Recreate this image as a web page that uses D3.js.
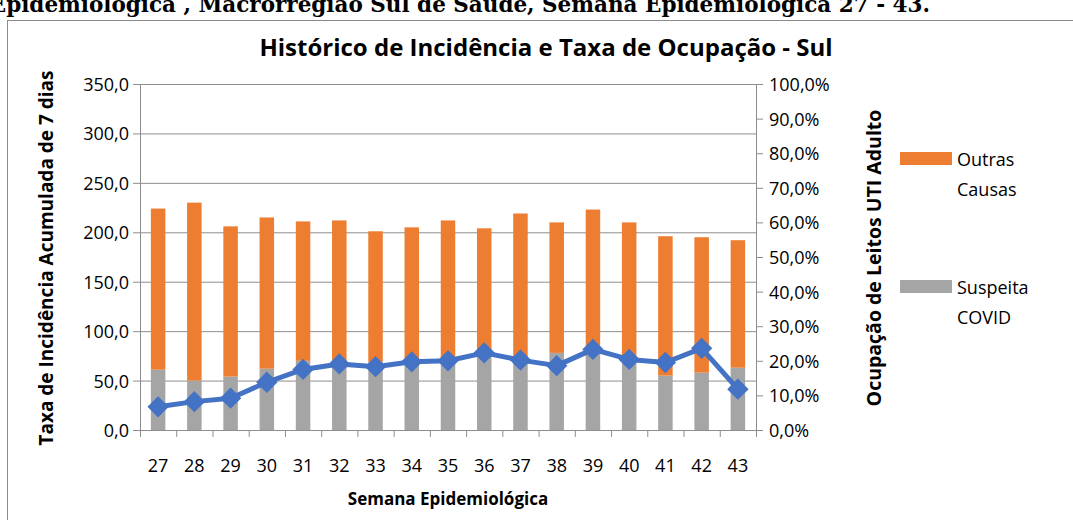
<!DOCTYPE html>
<html>
<head>
<meta charset="utf-8">
<script src="https://cdn.jsdelivr.net/npm/d3@7"></script>
<style>
  body { margin: 0; background: #fff; }
  svg { display: block; }
</style>
</head>
<body>
<div id="chart"></div>
<script>
const weeks = ["27","28","29","30","31","32","33","34","35","36","37","38","39","40","41","42","43"];
const suspeitaCovid = [61, 50, 54, 62, 70, 70, 69, 71, 72, 80, 73, 78, 86, 72, 55, 58, 63];
const outrasCausas = [163, 180, 152, 153, 141, 142, 132, 134, 140, 124, 146, 132, 137, 138, 141, 137, 129];
const ocupacaoUti = [6.7, 8.2, 9.2, 13.8, 17.5, 19.1, 18.3, 19.7, 20.0, 22.3, 20.2, 18.6, 23.3, 20.4, 19.5, 23.6, 11.8];
const leftTicks = [0, 50, 100, 150, 200, 250, 300, 350];
const rightTicks = [0, 10, 20, 30, 40, 50, 60, 70, 80, 90, 100];

const W = 1073, H = 520;
const plot = { left: 140, right: 756, top: 84, bottom: 430 };
const colors = { outras: "#ED7D31", covid: "#A5A5A5", line: "#4472C4", grid: "#8E8E8E" };
const font = "'Open Sans', sans-serif";

const svg = d3.select("#chart").append("svg")
    .attr("width", W)
    .attr("height", H);

// header line, cut off at the top of the page
svg.append("text")
    .attr("x", 930)
    .attr("y", 12)
    .attr("text-anchor", "end")
    .style("font-family", "'DejaVu Serif', serif")
    .style("font-weight", "bold")
    .style("font-size", "21.5px")
    .text("Epidemiológica , Macrorregião Sul de Saúde, Semana Epidemiológica 27 - 43.");

// chart border
svg.append("rect")
    .attr("x", 7.5)
    .attr("y", 20.5)
    .attr("width", W + 10)
    .attr("height", H + 10)
    .style("fill", "none")
    .style("stroke", "#8a8a8a")
    .style("stroke-width", 1);

const x = d3.scaleBand()
    .domain(weeks)
    .range([plot.left, plot.right])
    .paddingInner(0.6)
    .paddingOuter(0.3);

const xEdges = d3.scaleLinear()
    .domain([0, weeks.length])
    .range([plot.left, plot.right]);

const yLeft = d3.scaleLinear().domain([0, 350]).range([plot.bottom, plot.top]);
const yRight = d3.scaleLinear().domain([0, 100]).range([plot.bottom, plot.top]);

// gridlines
svg.append("g")
    .selectAll("line")
    .data(leftTicks)
    .enter()
    .append("line")
    .attr("x1", plot.left)
    .attr("x2", plot.right)
    .attr("y1", d => yLeft(d) + 0.5)
    .attr("y2", d => yLeft(d) + 0.5)
    .style("stroke", colors.grid)
    .style("stroke-width", 1);

// stacked bars
const table = weeks.map((w, i) => ({ week: w, covid: suspeitaCovid[i], outras: outrasCausas[i] }));
const stack = d3.stack().keys(["covid", "outras"])(table);

svg.append("g")
    .selectAll("g")
    .data(stack)
    .enter()
    .append("g")
    .style("fill", d => colors[d.key])
    .selectAll("rect")
    .data(d => d)
    .enter()
    .append("rect")
    .attr("x", d => x(d.data.week))
    .attr("width", x.bandwidth())
    .attr("y", d => yLeft(d[1]))
    .attr("height", d => yLeft(d[0]) - yLeft(d[1]));

// axes
const leftAxis = svg.append("g")
    .attr("transform", `translate(${plot.left},0)`)
    .call(d3.axisLeft(yLeft).tickValues(leftTicks).tickSize(7).tickPadding(4)
        .tickFormat(d => d3.format(".1f")(d).replace(".", ",")));

const rightAxis = svg.append("g")
    .attr("transform", `translate(${plot.right},0)`)
    .call(d3.axisRight(yRight).tickValues(rightTicks).tickSize(7).tickPadding(6)
        .tickFormat(d => d3.format(".1f")(d).replace(".", ",") + "%"));

const edgeAxis = svg.append("g")
    .attr("transform", `translate(0,${plot.bottom})`)
    .call(d3.axisBottom(xEdges).tickValues(d3.range(weeks.length + 1)).tickSize(7).tickFormat(""));

const labelAxis = svg.append("g")
    .attr("transform", `translate(0,${plot.bottom})`)
    .call(d3.axisBottom(x).tickSize(0).tickPadding(42));

[leftAxis, rightAxis, edgeAxis].forEach(g => {
    g.selectAll("line, path").style("stroke", colors.grid);
});
labelAxis.select(".domain").remove();
[leftAxis, rightAxis, labelAxis].forEach(g => {
    g.selectAll("text")
        .style("font-family", font)
        .style("font-size", "18px")
        .style("fill", "#000")
        .attr("dy", "0.36em");
});
labelAxis.selectAll("text").attr("dy", "0");

// occupancy line
const line = d3.line()
    .x((d, i) => x(weeks[i]) + x.bandwidth() / 2)
    .y(d => yRight(d));

svg.append("path")
    .datum(ocupacaoUti)
    .attr("d", line)
    .style("fill", "none")
    .style("stroke", colors.line)
    .style("stroke-width", 5)
    .style("stroke-linejoin", "round");

svg.append("g")
    .selectAll("path")
    .data(ocupacaoUti)
    .enter()
    .append("path")
    .attr("d", d3.symbol(d3.symbolDiamond2, 290))
    .attr("transform", (d, i) => `translate(${x(weeks[i]) + x.bandwidth() / 2},${yRight(d)})`)
    .style("fill", colors.line);

// titles
const bold = sel => sel.style("font-family", font).style("font-weight", "bold").style("fill", "#000");

svg.append("text")
    .attr("x", 546)
    .attr("y", 56)
    .attr("text-anchor", "middle")
    .style("font-size", "24px")
    .call(bold)
    .text("Histórico de Incidência e Taxa de Ocupação - Sul");

svg.append("text")
    .attr("x", 448)
    .attr("y", 505)
    .attr("text-anchor", "middle")
    .style("font-size", "17px")
    .call(bold)
    .text("Semana Epidemiológica");

svg.append("text")
    .attr("transform", "translate(53,258) rotate(-90)")
    .attr("text-anchor", "middle")
    .style("font-size", "19px")
    .call(bold)
    .text("Taxa de Incidência Acumulada de 7 dias");

svg.append("text")
    .attr("transform", "translate(881,258) rotate(-90)")
    .attr("text-anchor", "middle")
    .style("font-size", "19.5px")
    .call(bold)
    .text("Ocupação de Leitos UTI Adulto");

// legend
const legendItems = [
    { key: "outras", lines: ["Outras", "Causas"], y: 152 },
    { key: "covid", lines: ["Suspeita", "COVID"], y: 280 }
];

const legend = svg.append("g")
    .selectAll("g")
    .data(legendItems)
    .enter()
    .append("g")
    .attr("transform", d => `translate(900,${d.y})`);

legend.append("rect")
    .attr("width", 52)
    .attr("height", 13)
    .style("fill", d => colors[d.key]);

legend.append("text")
    .style("font-family", font)
    .style("font-size", "18px")
    .selectAll("tspan")
    .data(d => d.lines)
    .enter()
    .append("tspan")
    .attr("x", 57)
    .attr("y", (d, i) => 14 + i * 30)
    .text(d => d);
</script>
</body>
</html>
